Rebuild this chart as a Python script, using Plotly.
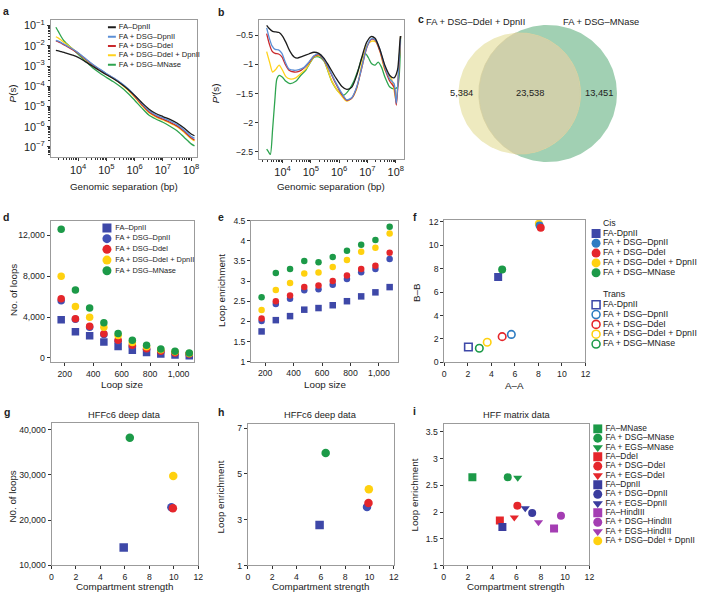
import numpy as np
import plotly.graph_objects as go

W, H = 706, 599
FONT = "Liberation Sans, Arial, sans-serif"
INK = "#222222"

# ---------------- a: contact probability P(s) (log10 values) ----------------
names = ["FA–DpnII", "FA + DSG–DpnII", "FA + DSG–DdeI", "FA + DSG–DdeI + DpnII", "FA + DSG–MNase"]
log_s_a = [3.21, 3.3, 3.4, 3.5, 3.6, 3.8, 4.0, 4.25, 4.5, 4.75, 5.0, 5.25, 5.5, 5.75,
           6.0, 6.25, 6.5, 6.75, 7.0, 7.25, 7.5, 7.75, 8.0, 8.12]
logp_fa_dpn = [-2.22, -2.25, -2.29, -2.33, -2.37, -2.46, -2.57, -2.78, -3.0, -3.22, -3.43, -3.63,
               -3.86, -4.13, -4.45, -4.8, -5.12, -5.35, -5.5, -5.64, -5.82, -6.07, -6.36, -6.45]
logp_dsg_dpn = [-1.73, -1.77, -1.84, -1.92, -2.0, -2.16, -2.34, -2.62, -2.9, -3.14, -3.37, -3.58,
                -3.82, -4.1, -4.45, -4.84, -5.2, -5.42, -5.57, -5.72, -5.9, -6.16, -6.48, -6.58]
logp_dsg_dde = [-1.76, -1.8, -1.87, -1.95, -2.03, -2.19, -2.37, -2.65, -2.92, -3.16, -3.39, -3.6,
                -3.84, -4.13, -4.5, -4.9, -5.26, -5.48, -5.63, -5.78, -5.96, -6.23, -6.55, -6.66]
logp_dsg_ddedpn = [-1.55, -1.62, -1.72, -1.83, -1.93, -2.14, -2.36, -2.66, -2.94, -3.18, -3.41, -3.62,
                   -3.87, -4.18, -4.54, -4.94, -5.3, -5.52, -5.67, -5.82, -6.0, -6.27, -6.6, -6.7]
logp_dsg_mnase = [-1.08, -1.3, -1.55, -1.76, -1.9, -2.16, -2.42, -2.75, -3.07, -3.33, -3.56, -3.78,
                  -4.03, -4.33, -4.69, -5.07, -5.42, -5.62, -5.78, -5.98, -6.2, -6.52, -6.85, -6.95]
noise_a = [1.45e-7, 4.4e-8, 4.1e-8, 5.4e-8, 5.2e-8]

# ---------------- b: slope P'(s) ----------------
b_s_fa_dpn = [3.44, 3.53, 3.65, 3.77, 3.88, 4.0, 4.12, 4.26, 4.41, 4.52, 4.7, 4.93, 5.11, 5.28, 5.46, 5.63,
              5.87, 6.1, 6.27, 6.45, 6.62, 6.8, 6.97, 7.13, 7.27, 7.44, 7.62, 7.79, 7.94, 8.06, 8.14, 8.17]
b_p_fa_dpn = [-0.325, -0.38, -0.43, -0.44, -0.45, -0.51, -0.62, -0.77, -0.87, -0.89, -0.86, -0.82, -0.79,
              -0.81, -0.89, -1.02, -1.22, -1.38, -1.43, -1.39, -1.19, -0.88, -0.62, -0.52, -0.55, -0.74,
              -1.02, -1.19, -1.23, -1.1, -0.65, -0.51]
b_s_dsg = [3.44, 3.53, 3.63, 3.74, 3.86, 3.98, 4.09, 4.23, 4.41, 4.58, 4.76, 4.93, 5.11, 5.28, 5.46, 5.63,
           5.87, 6.1, 6.27, 6.45, 6.62, 6.8, 6.97, 7.13, 7.27, 7.44, 7.62, 7.79, 7.94, 8.02, 8.1, 8.17]
b_p_dsg_dpn = [-0.37, -0.54, -0.68, -0.74, -0.75, -0.81, -0.95, -1.08, -1.1, -1.09, -1.05, -0.96, -0.85,
               -0.82, -0.91, -1.06, -1.3, -1.5, -1.61, -1.57, -1.39, -1.05, -0.71, -0.56, -0.57, -0.74,
               -1.05, -1.25, -1.33, -1.67, -1.1, -0.51]
b_p_dsg_dde = [-0.47, -0.64, -0.77, -0.81, -0.82, -0.87, -0.99, -1.1, -1.13, -1.12, -1.06, -0.97, -0.86,
               -0.83, -0.92, -1.07, -1.32, -1.52, -1.62, -1.58, -1.4, -1.06, -0.72, -0.57, -0.58, -0.77,
               -1.08, -1.29, -1.39, -1.7, -1.16, -0.51]
b_s_ddedpn = [3.44, 3.56, 3.65, 3.77, 3.88, 4.0, 4.12, 4.26, 4.47, 4.64, 4.82, 5.11, 5.28, 5.46, 5.75,
              6.1, 6.27, 6.45, 6.62, 6.8, 6.97, 7.15, 7.29, 7.44, 7.62, 7.85, 7.94, 8.02, 8.1, 8.17]
b_p_ddedpn = [-0.78, -0.99, -1.13, -1.08, -1.01, -1.1, -1.21, -1.25, -1.23, -1.16, -1.08, -0.87, -0.85,
              -0.92, -1.3, -1.55, -1.63, -1.58, -1.42, -0.99, -0.68, -0.6, -0.61, -0.77, -1.1, -1.25,
              -1.44, -1.64, -1.1, -0.51]
b_s_mnase = [3.44, 3.51, 3.57, 3.65, 3.73, 3.8, 3.88, 4.0, 4.12, 4.26, 4.47, 4.64, 4.82, 5.11, 5.28, 5.46,
             5.75, 5.98, 6.16, 6.33, 6.51, 6.68, 6.82, 6.92, 7.03, 7.15, 7.27, 7.38, 7.5, 7.62, 7.79,
             7.94, 8.06, 8.17]
b_p_mnase = [-2.46, -2.51, -2.55, -2.12, -1.61, -1.25, -1.19, -1.22, -1.29, -1.33, -1.29, -1.19, -1.1,
             -0.88, -0.87, -0.94, -1.3, -1.47, -1.53, -1.45, -1.3, -1.08, -0.87, -0.81, -0.88, -0.99,
             -1.01, -0.96, -1.05, -1.22, -1.39, -1.42, -1.39, -0.51]

# ---------------- c: loop overlap ----------------
venn_names = ["FA + DSG–DdeI + DpnII", "FA + DSG–MNase"]
venn_only_a, venn_both, venn_only_b = 5384, 23538, 13451

# ---------------- d / e: loops by loop size ----------------
loop_size = [175, 275, 375, 475, 575, 675, 775, 875, 975, 1075]
loops_n = [
    [3750, 2570, 2190, 1570, 1130, 770, 550, 390, 290, 220],
    [5600, 3800, 3000, 2300, 1650, 1150, 850, 600, 450, 350],
    [5800, 3850, 3110, 2380, 1730, 1250, 900, 650, 500, 380],
    [8000, 5040, 3980, 3020, 2200, 1510, 1100, 800, 600, 450],
    [12600, 6650, 4900, 3440, 2410, 1730, 1250, 870, 650, 500],
]
loops_enr = [
    [1.75, 2.03, 2.13, 2.29, 2.33, 2.4, 2.5, 2.62, 2.72, 2.85],
    [2.01, 2.43, 2.56, 2.77, 2.8, 2.91, 3.05, 3.22, 3.3, 3.55],
    [2.07, 2.5, 2.64, 2.85, 2.89, 3.0, 3.14, 3.3, 3.38, 3.7],
    [2.28, 2.78, 2.95, 3.19, 3.21, 3.35, 3.52, 3.73, 3.83, 4.18],
    [2.6, 3.2, 3.3, 3.5, 3.47, 3.6, 3.75, 3.9, 4.02, 4.35],
]

# ---------------- f: compartment strength ----------------
f_names = ["FA-DpnII", "FA + DSG–DpnII", "FA + DSG–DdeI", "FA + DSG–DdeI + DpnII", "FA + DSG–MNase"]
cis_aa = [4.58, 8.1, 8.2, 8.04, 4.92]
cis_bb = [7.29, 11.7, 11.5, 11.84, 7.94]
trans_aa = [2.05, 5.7, 4.92, 3.65, 2.98]
trans_bb = [1.31, 2.38, 2.19, 1.71, 1.2]

# ---------------- g / h: HFFc6 deep data ----------------
deep_strength = [5.9, 9.8, 9.92, 9.95, 6.4]
deep_loops = [13930, 22800, 22620, 29700, 38190]
deep_enrichment = [2.77, 3.56, 3.73, 4.33, 5.91]

# ---------------- i: HFF matrix data ----------------
i_names = ["FA–MNase", "FA + DSG–MNase", "FA + EGS–MNase", "FA–DdeI", "FA + DSG–DdeI", "FA + EGS–DdeI",
           "FA–DpnII", "FA + DSG–DpnII", "FA + EGS–DpnII", "FA–HindIII", "FA + DSG–HindIII",
           "FA + EGS–HindIII", "FA + DSG–DdeI + DpnII"]
i_strength = [2.37, 5.28, 6.1, 4.63, 6.07, 5.82, 4.84, 7.29, 6.72, 9.09, 9.66, 7.81, None]
i_enrichment = [2.65, 2.65, 2.64, 1.84, 2.12, 1.9, 1.72, 1.98, 2.07, 1.69, 1.93, 1.81, None]

# ---------------- styles ----------------
line_colors = ["#1c1c1c", "#5b8fd6", "#c9282c", "#ffd21c", "#2ea44f"]
mk_colors = ["#3e48a8", "#4150b4", "#e5262b", "#ffd10f", "#1c9a48"]
mk_symbols = ["square", "circle", "circle", "circle", "circle"]
f_colors = ["#3e48a8", "#2e7cc2", "#e5262b", "#ffd10f", "#1c9a48"]
i_colors = ["#1c9a48"] * 3 + ["#e5262b"] * 3 + ["#3a3c9e"] * 3 + ["#a43db3"] * 3 + ["#ffd10f"]
i_symbols = ["square", "circle", "triangle-down"] * 4 + ["circle"]

fig = go.Figure()
axes = {}


def ids(n):
    return ("x" if n == 1 else f"x{n}"), ("y" if n == 1 else f"y{n}")


def set_axes(n, xpx, ypx, xkw, ykw):
    xs, ys = ids(n)
    axes["xaxis" if n == 1 else f"xaxis{n}"] = dict(domain=[xpx[0] / W, xpx[1] / W], anchor=ys, **xkw)
    axes["yaxis" if n == 1 else f"yaxis{n}"] = dict(domain=[1 - ypx[1] / H, 1 - ypx[0] / H], anchor=xs, **ykw)


def sty(**kw):
    base = dict(showline=True, mirror=True, linecolor="#9b9b9b", linewidth=1, ticks="outside", ticklen=3,
                tickwidth=1, tickcolor="#333", tickfont=dict(size=8.7, color=INK), showgrid=False,
                zeroline=False, fixedrange=True)
    base.update(kw)
    return base


def hidden(rng):
    return dict(visible=False, range=rng, fixedrange=True)


def add(n, **kw):
    xs, ys = ids(n)
    fig.add_trace(go.Scatter(xaxis=xs, yaxis=ys, showlegend=False, hoverinfo="skip", **kw))


def legend_axis(n, x0, x1, row0, row_h, nrows):
    set_axes(n, [x0, x1], [row0 - row_h / 2, row0 + (nrows - 0.5) * row_h],
             hidden([0, x1 - x0]), hidden([nrows - 0.5, -0.5]))


minor_log = dict(ticks="outside", ticklen=2, tickcolor="#333", dtick="D1", showgrid=False)

# ---- a
a_series = [logp_fa_dpn, logp_dsg_dpn, logp_dsg_dde, logp_dsg_ddedpn, logp_dsg_mnase]
for k in [4, 3, 2, 1, 0]:
    add(1, x=10 ** np.array(log_s_a), y=10 ** np.array(a_series[k]), mode="lines",
        line=dict(color=line_colors[k], width=1.3, shape="spline", smoothing=0.8))
set_axes(1, [49, 197], [15, 155],
         sty(type="log", range=[3.02, 8.21], dtick=1, exponentformat="power", showexponent="all", minor=minor_log),
         sty(type="log", range=[-7.52, -0.71], dtick=1, exponentformat="power", showexponent="all", minor=minor_log))
shapes = []
for k in [1, 2, 4, 3, 0]:
    lv = np.log10(noise_a[k])
    shapes.append(dict(type="line", xref="x domain", yref="y", x0=0, x1=1, y0=lv, y1=lv,
                       line=dict(color=line_colors[k], width=1, dash="dot")))

# legend a
legend_axis(10, 105, 200, 22.7, 9.5, 5)
for k in range(5):
    add(10, x=[2, 10], y=[k, k], mode="lines", line=dict(color=line_colors[k], width=2))
add(10, x=[13] * 5, y=list(range(5)), mode="text", text=names, textposition="middle right",
    textfont=dict(size=7.6, color=INK), cliponaxis=False)

# ---- b
b_series = [(b_s_fa_dpn, b_p_fa_dpn), (b_s_dsg, b_p_dsg_dpn), (b_s_dsg, b_p_dsg_dde),
            (b_s_ddedpn, b_p_ddedpn), (b_s_mnase, b_p_mnase)]
for k in [4, 3, 2, 1, 0]:
    s, p = b_series[k]
    add(2, x=10 ** np.array(s), y=p, mode="lines",
        line=dict(color=line_colors[k], width=1.3, shape="spline", smoothing=0.7))
set_axes(2, [259.3, 405.7], [15, 156.7],
         sty(type="log", range=[3.16, 8.28], dtick=1, exponentformat="power", showexponent="all", minor=minor_log),
         sty(range=[-2.63, -0.23], dtick=0.5, tick0=0))

# ---- c: area-proportional venn
r1 = np.sqrt((venn_only_a + venn_both) / np.pi)
r2 = np.sqrt((venn_only_b + venn_both) / np.pi)


def lens_area(d):
    a1 = np.arccos((d * d + r1 * r1 - r2 * r2) / (2 * d * r1))
    a2 = np.arccos((d * d + r2 * r2 - r1 * r1) / (2 * d * r2))
    q = np.sqrt((-d + r1 + r2) * (d + r1 - r2) * (d - r1 + r2) * (d + r1 + r2))
    return r1 * r1 * a1 + r2 * r2 * a2 - 0.5 * q


lo, hi = abs(r2 - r1) + 1e-6, r1 + r2 - 1e-6
for _ in range(60):
    mid = (lo + hi) / 2
    if lens_area(mid) > venn_both:
        lo = mid
    else:
        hi = mid
dist = (lo + hi) / 2
t = np.linspace(0, 2 * np.pi, 240)
add(3, x=dist + r2 * np.cos(t), y=r2 * np.sin(t), mode="lines", fill="toself", fillcolor="#a1d0b3",
    line=dict(width=0))
add(3, x=r1 * np.cos(t), y=r1 * np.sin(t), mode="lines", fill="toself", fillcolor="#eeeabf",
    line=dict(width=0))
xi = (dist ** 2 + r1 ** 2 - r2 ** 2) / (2 * dist)
yi = np.sqrt(r1 ** 2 - xi ** 2)
th1 = np.arctan2(yi, xi)
ph = np.arctan2(yi, xi - dist)
arc1 = np.linspace(-th1, th1, 120)
arc2 = np.linspace(ph, 2 * np.pi - ph, 120)
lx = np.concatenate([r1 * np.cos(arc1), dist + r2 * np.cos(arc2)])
ly = np.concatenate([r1 * np.sin(arc1), r2 * np.sin(arc2)])
add(3, x=lx, y=ly, mode="lines", fill="toself", fillcolor="#cfd0ab", line=dict(width=0.8, color="#d6cf9f"))
k_px = 0.643
cx, cy = 522.7, 90
set_axes(3, [430, 660], [5, 170], hidden([-(cx - 430) / k_px, (660 - cx) / k_px]),
         hidden([-(170 - cy) / k_px, (cy - 5) / k_px]))

# ---- d
for k in range(5):
    add(4, x=loop_size, y=loops_n[k], mode="markers",
        marker=dict(symbol=mk_symbols[k], color=mk_colors[k], size=7.5, line=dict(width=0)))
set_axes(4, [49, 194.3], [219.3, 363.3],
         sty(range=[100, 1111], tickvals=[200, 400, 600, 800, 1000], tickformat=",d"),
         sty(range=[-415, 13450], tickvals=[0, 4000, 8000, 12000], tickformat=",d"))
legend_axis(11, 100, 200, 226.7, 10.9, 5)
add(11, x=[6] * 5, y=list(range(5)), mode="markers",
    marker=dict(symbol=mk_symbols, color=mk_colors, size=9, line=dict(width=0)))
add(11, x=[14.5] * 5, y=list(range(5)), mode="text", text=names, textposition="middle right",
    textfont=dict(size=7.4, color=INK), cliponaxis=False)

# ---- e
for k in range(5):
    add(5, x=loop_size, y=loops_enr[k], mode="markers", cliponaxis=False,
        marker=dict(symbol=mk_symbols[k], color=mk_colors[k], size=6.5, line=dict(width=0)))
set_axes(5, [251.7, 400], [219.3, 362.7],
         sty(range=[102, 1134], tickvals=[200, 400, 600, 800, 1000], tickformat=",d"),
         sty(range=[1, 4.5], dtick=0.5, tick0=1))

# ---- f
for k in [0, 4, 3, 1, 2]:
    add(6, x=[cis_aa[k]], y=[cis_bb[k]], mode="markers",
        marker=dict(symbol=mk_symbols[k], color=f_colors[k], size=8, line=dict(width=0)))
    add(6, x=[trans_aa[k]], y=[trans_bb[k]], mode="markers",
        marker=dict(symbol=mk_symbols[k] + "-open", color=f_colors[k], size=7.5, line=dict(width=1.6)))
set_axes(6, [446.7, 589.3], [218.3, 363.3],
         sty(range=[0, 12], dtick=2), sty(range=[0, 12.2], dtick=2))
legend_axis(12, 595, 706, 222.3, 10, 13.25)
rows_cis = [1, 2, 3, 4, 5]
rows_trans = [8.25, 9.25, 10.25, 11.25, 12.25]
add(12, x=[5] * 5, y=rows_cis, mode="markers",
    marker=dict(symbol=mk_symbols, color=f_colors, size=9, line=dict(width=0)))
add(12, x=[5] * 5, y=rows_trans, mode="markers",
    marker=dict(symbol=[s + "-open" for s in mk_symbols], color=f_colors, size=8, line=dict(width=1.6)))
add(12, x=[12] * 12, y=[0] + rows_cis + [7.25] + rows_trans, mode="text",
    text=["Cis"] + f_names + ["Trans"] + f_names, textposition="middle right",
    textfont=dict(size=8.8, color=INK), cliponaxis=False)

# ---- g / h
for k in [0, 4, 3, 1, 2]:
    mk = dict(symbol=mk_symbols[k], color=mk_colors[k], size=8.5, line=dict(width=0))
    add(7, x=[deep_strength[k]], y=[deep_loops[k]], mode="markers", marker=mk)
    add(8, x=[deep_strength[k]], y=[deep_enrichment[k]], mode="markers", marker=mk)
set_axes(7, [50, 198.3], [425, 570], sty(range=[0, 12], dtick=2),
         sty(range=[9950, 41460], tickvals=[10000, 20000, 30000, 40000], tickformat=",d"))
set_axes(8, [248.3, 395.7], [425.7, 570], sty(range=[0, 12], dtick=2),
         sty(range=[1, 7.2], tickvals=[1, 3, 5, 7]))

# ---- i
add(9, x=i_strength, y=i_enrichment, mode="markers",
    marker=dict(symbol=i_symbols, color=i_colors, size=8, line=dict(width=0)))
set_axes(9, [446, 593.3], [426, 570], sty(range=[0, 12], dtick=2),
         sty(range=[1, 3.65], dtick=0.5, tick0=1))
legend_axis(13, 597, 706, 431, 9.5, 13)
add(13, x=[4.7] * 13, y=list(range(13)), mode="markers",
    marker=dict(symbol=i_symbols, color=i_colors, size=9, line=dict(width=0)))
add(13, x=[12.5] * 13, y=list(range(13)), mode="text", text=i_names, textposition="middle right",
    textfont=dict(size=8.4, color=INK), cliponaxis=False)


# ---- text
def ann(text, x, y, size=9.8, angle=0, **kw):
    d = dict(text=text, x=x / W, y=1 - y / H, xref="paper", yref="paper", showarrow=False,
             font=dict(size=size, color=INK), textangle=angle, xanchor="center", yanchor="middle")
    d.update(kw)
    return d


annotations = []
for letter, x, y in [("a", 4, 6), ("b", 221, 7), ("c", 423, 14), ("d", 4, 216), ("e", 221, 216),
                     ("f", 417, 216), ("g", 5, 414), ("h", 221, 414), ("i", 417, 413)]:
    annotations.append(ann(f"<b>{letter}</b>", x, y, size=10.5))
annotations += [
    ann("Genomic separation (bp)", 123, 185), ann("<i>P</i>(s)", 11, 90, angle=-90),
    ann("Genomic separation (bp)", 332, 185), ann("<i>P</i>′(s)", 216, 90, angle=-90),
    ann("Loop size", 121, 386), ann("No. of loops", 11, 290, angle=-90),
    ann("Loop size", 326, 386), ann("Loop enrichment", 221, 290, angle=-90),
    ann("A–A", 518, 387), ann("B–B", 418, 292, angle=-90),
    ann("HFFc6 deep data", 124, 417, size=9.3), ann("Compartment strength", 124, 591),
    ann("N0. of loops", 11, 500, angle=-90),
    ann("HFFc6 deep data", 322, 417, size=9.3), ann("Compartment strength", 322, 591),
    ann("Loop enrichment", 221, 500, angle=-90),
    ann("HFF matrix data", 519.5, 417, size=9.3), ann("Compartment strength", 519, 591),
    ann("Loop enrichment", 417, 498, angle=-90),
    ann(venn_names[0], 478.5, 17, size=9.3), ann(venn_names[1], 605.5, 17, size=9.3),
]
for text, vx in [(f"{venn_only_a:,}", (-r1 + dist - r2) / 2),
                 (f"{venn_both:,}", (dist - r2 + r1) / 2),
                 (f"{venn_only_b:,}", (r1 + dist + r2) / 2)]:
    annotations.append(dict(text=text, x=vx, y=0, xref="x3", yref="y3", showarrow=False,
                            font=dict(size=9.3, color=INK), xanchor="center", yanchor="middle",
                            xshift=-7 if text == f"{venn_only_a:,}" else 0))

fig.update_layout(**axes, width=W, height=H, margin=dict(l=0, r=0, t=0, b=0),
                  paper_bgcolor="white", plot_bgcolor="rgba(0,0,0,0)", showlegend=False,
                  hovermode=False,
                  font=dict(family=FONT, size=9, color=INK), annotations=annotations, shapes=shapes)
# the page body has a default 8px margin; drop it so the figure sits at the window origin
fig.write_html("out.html", config={"displayModeBar": False},
               post_script="document.body.style.margin='0px';")
